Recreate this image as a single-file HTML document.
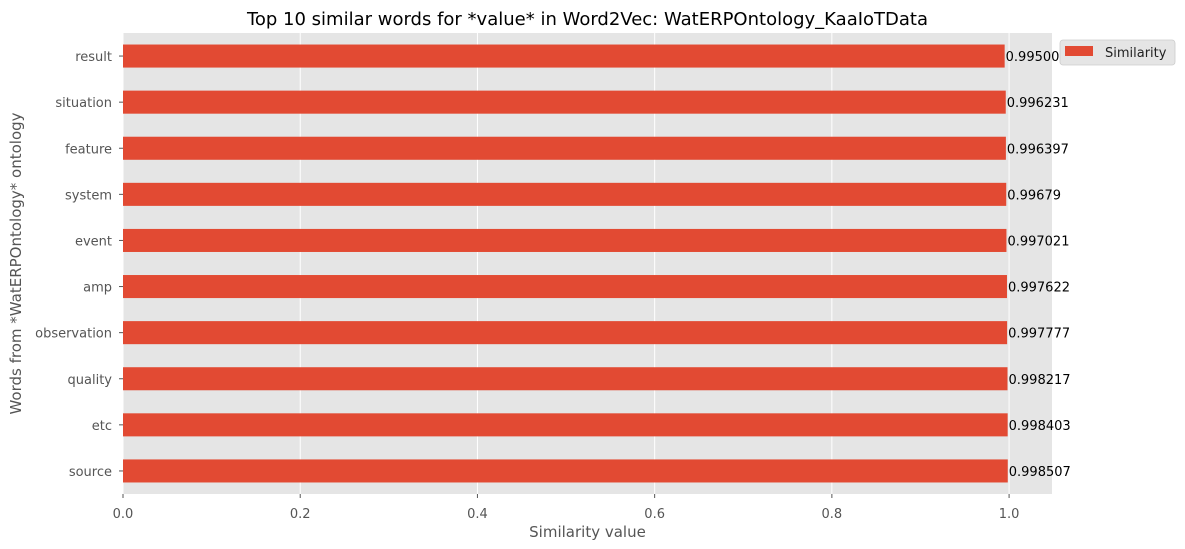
<!DOCTYPE html>
<html><head><meta charset="utf-8"><style>
html,body{margin:0;padding:0;background:#fff;}
svg{display:block;font-family:"DejaVu Sans","Liberation Sans",sans-serif;}
</style></head><body>
<svg id="chart" width="1185" height="549"></svg>
<script>
const categories=["result","situation","feature","system","event","amp","observation","quality","etc","source"];
const values=[0.995006,0.996231,0.996397,0.99679,0.997021,0.997622,0.997777,0.998217,0.998403,0.998507];
const labels=["0.995006","0.996231","0.996397","0.99679","0.997021","0.997622","0.997777","0.998217","0.998403","0.998507"];
const xTicks=[0,0.2,0.4,0.6,0.8,1.0];
const xTickLabels=["0.0","0.2","0.4","0.6","0.8","1.0"];
const svg=document.getElementById('chart');
const NS='http://www.w3.org/2000/svg';
const L=123,R=1052,T=33,B=494;
const xMax=Math.max(...values)*1.05;
const x=v=>L+v/xMax*(R-L);
const step=(B-T)/categories.length;
const y=i=>T+step*(i+0.5);
function mk(tag,attrs,parent){const e=document.createElementNS(NS,tag);for(const k in attrs)e.setAttribute(k,attrs[k]);(parent||svg).appendChild(e);return e;}
const bg=mk('rect',{x:L,y:T,width:R-L,height:B-T,fill:'#e5e5e5'});


xTicks.forEach((t,i)=>{
  const g=mk('line',{x1:x(t),x2:x(t),y1:T,y2:B,stroke:'#fff','stroke-width':1});
  
  
  const tk=mk('line',{x1:x(t),x2:x(t),y1:B,y2:B+4,stroke:'#555'});
  
  
  const tl=mk('text',{x:x(t),y:B+24,'text-anchor':'middle','font-size':13,fill:'#555'});
  tl.textContent=xTickLabels[i];
  
  
});
categories.forEach((c,i)=>{
  const cy=y(i);
  const b=mk('rect',{x:L,y:cy-step/4,width:x(values[i])-L,height:step/2,fill:'#e24a33'});
  
  
  const tk=mk('line',{x1:L-4,x2:L,y1:cy,y2:cy,stroke:'#555'});
  
  
  const tl=mk('text',{x:L-11,y:cy+5,'text-anchor':'end','font-size':13,fill:'#555'});
  tl.textContent=c;
  
  
});
categories.forEach((c,i)=>{
  const vl=mk('text',{x:x(values[i])+1,y:y(i)+5,'font-size':13,fill:'#000'});
  vl.textContent=labels[i];
  
  
});
const title=mk('text',{x:(L+R)/2,y:25,'text-anchor':'middle','font-size':18,fill:'#000'});
title.textContent='Top 10 similar words for *value* in Word2Vec: WatERPOntology_KaaIoTData';


const xt=mk('text',{x:(L+R)/2,y:537,'text-anchor':'middle','font-size':15,fill:'#555'});
xt.textContent='Similarity value';


const yt=mk('text',{x:0,y:0,'text-anchor':'middle','font-size':15,fill:'#555',transform:'translate(21,'+((T+B)/2)+') rotate(-90)'});
yt.textContent='Words from *WatERPOntology* ontology';


const lg=mk('g',{});


mk('rect',{x:1060,y:40,width:115,height:25,rx:3,fill:'#e5e5e5',stroke:'#ccc','stroke-width':0.8},lg);
const sw=mk('rect',{x:1065,y:46,width:28,height:10,fill:'#e24a33'},lg);


const lt=mk('text',{x:1105,y:57,'font-size':13,fill:'#222'},lg);
lt.textContent='Similarity';


</script>
</body></html>
